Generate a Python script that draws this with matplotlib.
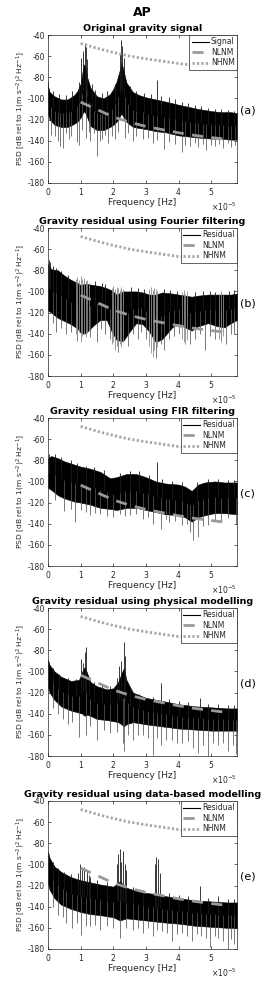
import numpy as np
import matplotlib
matplotlib.use("Agg")
import matplotlib.pyplot as plt
from matplotlib.lines import Line2D

plt.rcParams['font.family'] = ['DejaVu Sans']
plt.rcParams['axes.unicode_minus'] = False

F_UNIT = 1e-5      # frequencies below are in units of 1e-5 Hz
F_MAX = 5.787

# Peterson noise models
NLNM_F = [1.0, 1.5, 2.0, 2.5, 3.0, 3.5, 4.0, 4.5, 5.0, 5.5]
NLNM_DB = [-103.5, -110.5, -117.5, -122.5, -126.5, -129.5, -132.5, -135, -137, -138.8]
NHNM_F = [1.0, 1.5, 2.0, 2.5, 3.0, 3.5, 4.0, 4.5, 5.0, 5.5, 5.79]
NHNM_DB = [-48, -52.5, -56.5, -60, -62.5, -64.8, -67, -68.8, -70.3, -71.5, -72.2]

# (a) original gravity signal: upper / lower edge of the dense PSD band
A_F = [0.0, 0.05, 0.2, 0.4, 0.6, 0.8, 0.9, 1.0, 1.05, 1.1, 1.15, 1.2, 1.3, 1.5, 1.7, 1.9, 2.0,
       2.1, 2.2, 2.25, 2.3, 2.4, 2.6, 2.8, 3.0, 3.3, 3.6, 4.0, 4.3, 4.6, 5.0, 5.3, 5.6, 5.79]
A_UP = [-88, -94, -98, -101, -101, -97, -93, -86, -76, -68, -70, -80, -90, -98, -100, -96, -91,
        -84, -73, -66, -72, -85, -94, -97, -99, -101, -103, -106, -108, -110, -112, -113, -113, -114]
A_LO = [-115, -120, -125, -127, -127, -124, -122, -118, -115, -112, -114, -118, -126, -130, -130, -127, -125,
        -122, -117, -114, -117, -122, -127, -128, -129, -131, -132, -135, -136, -137, -138, -138, -139, -139]
A_SPK_UP_F = [0.0, 0.15, 0.35, 0.55, 0.75, 0.95, 1.02, 1.08, 1.12, 1.16, 1.2, 1.35, 1.45, 1.65, 1.8, 2.05,
              2.2, 2.24, 2.28, 2.33, 2.5, 2.7, 2.95, 3.15, 3.35, 3.45, 3.7, 3.9, 4.1, 4.3, 4.5, 4.7,
              4.9, 5.1, 5.3, 5.5, 5.7]
A_SPK_UP_DB = [-84, -93, -96, -97, -93, -84, -62, -55, -48, -51, -63, -86, -92, -95, -93, -86,
               -58, -45, -50, -62, -88, -93, -95, -96, -83, -98, -99, -101, -103, -104, -106, -107,
               -109, -110, -110, -111, -112]
A_SPK_DN_F = [0.1, 0.2, 0.3, 0.38, 0.45, 0.55, 0.65, 0.7, 0.9, 0.95, 1.05, 1.15, 1.25, 1.3, 1.42, 1.5,
              1.58, 1.65, 1.75, 1.85, 1.95, 2.05, 2.15, 2.35, 2.45, 2.6, 2.7, 2.9, 3.05, 3.2, 3.35,
              3.55, 3.7, 3.9, 4.1, 4.2, 4.35, 4.5, 4.6, 4.75, 4.85, 5.0, 5.1, 5.25, 5.35, 5.5, 5.6, 5.72]
A_SPK_DN_DB = [-135, -136, -140, -145, -147, -133, -138, -136, -141, -144, -130, -137, -132, -140, -133, -154,
               -140, -138, -135, -142, -136, -138, -132, -137, -133, -140, -136, -138, -137, -142, -139,
               -148, -141, -143, -151, -144, -145, -142, -146, -143, -149, -144, -145, -143, -147, -142, -146, -144]

# (b) Fourier filtering residual
B_F = [0.0, 0.1, 0.3, 0.5, 0.7, 0.9, 1.0, 1.1, 1.2, 1.4, 1.6, 1.8, 1.95, 2.1, 2.3, 2.5, 2.7, 2.9,
       3.1, 3.3, 3.5, 3.8, 4.0, 4.2, 4.4, 4.6, 4.9, 5.2, 5.4, 5.6, 5.79]
B_UP = [-74, -79, -80, -85, -89, -92, -94, -93, -93, -94, -95, -97, -99, -103, -100, -100, -100, -101,
        -103, -103, -101, -102, -103, -104, -105, -104, -103, -103, -103, -103, -102]
B_LO = [-118, -120, -125, -128, -131, -135, -139, -140, -138, -132, -127, -127, -138, -146, -147, -138, -130, -131,
        -138, -148, -145, -134, -130, -134, -137, -133, -130, -133, -134, -130, -127]
B_SPK_UP_F = [0.02, 0.05, 0.15, 0.25, 0.4, 0.6, 1.45, 1.65, 1.75, 2.55, 2.75, 2.95, 3.55, 3.75, 3.95,
              4.5, 4.75, 4.95, 5.1, 5.55, 5.7]
B_SPK_UP_DB = [-70, -72, -76, -78, -81, -84, -90, -92, -93, -96, -97, -98, -98, -99, -100,
               -101, -100, -100, -101, -100, -99]
B_SPK_DN_F = [0.15, 0.25, 0.4, 0.55, 0.7, 0.9, 1.3, 1.5, 1.62, 1.75, 1.9, 2.15, 2.45, 2.6, 2.75, 2.85,
              3.0, 3.3, 3.45, 3.55, 3.7, 3.85, 4.0, 4.35, 4.5, 4.65, 4.8, 4.95, 5.1, 5.3, 5.45, 5.6, 5.7]
B_SPK_DN_DB = [-130, -138, -135, -140, -138, -147, -143, -148, -136, -140, -145, -157, -152, -140, -145, -138,
               -145, -163, -150, -155, -145, -142, -140, -150, -145, -140, -155, -142, -145, -146, -150, -140, -140]
# light grey comb lines around the filtered harmonics
B_GREY_F = [0.85, 0.9, 0.95, 1.0, 1.05, 1.1, 1.15, 1.2, 1.25, 1.95, 2.0, 2.05, 2.1, 2.15, 2.2, 2.25, 2.3,
            3.1, 3.15, 3.2, 3.25, 3.3, 3.35, 4.1, 4.15, 4.2, 4.25, 5.25, 5.3, 5.35]
B_GREY_TOP = [-88, -86, -89, -85, -88, -87, -90, -89, -92, -97, -95, -98, -96, -97, -99, -96, -98,
              -98, -96, -99, -97, -98, -100, -101, -99, -102, -100, -102, -100, -103]
B_GREY_BOT = [-140, -145, -138, -148, -142, -140, -143, -139, -137, -150, -148, -155, -152, -157, -150, -153, -148,
              -152, -158, -162, -155, -150, -153, -145, -148, -150, -146, -145, -148, -142]

# (c) FIR filtering residual
C_F = [0.0, 0.1, 0.3, 0.5, 0.8, 1.0, 1.3, 1.6, 1.9, 2.1, 2.4, 2.7, 3.0, 3.3, 3.6, 4.0, 4.2, 4.4,
       4.6, 4.8, 5.1, 5.4, 5.79]
C_UP = [-78, -76, -78, -81, -84, -86, -88, -91, -97, -96, -93, -93, -96, -100, -102, -103, -105, -109,
        -103, -101, -100, -101, -101]
C_LO = [-106, -108, -113, -116, -119, -120, -122, -125, -126, -127, -125, -125, -127, -129, -131, -132, -134, -138,
        -134, -132, -130, -130, -131]
C_SPK_UP_F = [0.03, 0.2, 0.4, 0.7, 0.9, 1.15, 1.4, 1.7, 2.2, 2.5, 2.8, 3.1, 3.35, 3.5, 3.8, 4.1,
              4.55, 4.9, 5.2, 5.5, 5.7]
C_SPK_UP_DB = [-74, -74, -77, -80, -83, -85, -86, -89, -92, -90, -90, -94, -82, -98, -100, -101,
               -101, -98, -98, -99, -99]
C_SPK_DN_F = [0.2, 0.5, 0.7, 0.82, 1.0, 1.15, 1.3, 1.45, 1.6, 1.8, 2.0, 2.2, 2.35, 2.5, 2.7, 2.9, 3.05,
              3.2, 3.45, 3.6, 3.7, 3.9, 4.1, 4.25, 4.35, 4.45, 4.6, 4.75, 4.9, 5.1, 5.3, 5.5, 5.75]
C_SPK_DN_DB = [-118, -128, -126, -138, -127, -129, -132, -130, -131, -133, -134, -131, -133, -132, -131, -136, -134,
               -140, -145, -136, -138, -137, -141, -140, -148, -155, -153, -142, -141, -137, -137, -135, -140]

# (d) physical modelling residual
D_F = [0.0, 0.05, 0.2, 0.4, 0.7, 0.95, 1.05, 1.12, 1.18, 1.3, 1.5, 1.8, 2.0, 2.15, 2.25, 2.32, 2.4,
       2.6, 3.0, 3.5, 4.0, 4.5, 5.0, 5.5, 5.79]
D_UP = [-89, -94, -100, -105, -109, -108, -100, -96, -100, -110, -114, -117, -116, -110, -102, -97, -108,
        -120, -125, -128, -131, -133, -134, -135, -135]
D_LO = [-115, -120, -127, -133, -137, -139, -140, -142, -141, -142, -145, -146, -147, -148, -150, -152, -150,
        -148, -150, -152, -154, -155, -156, -156, -156]
D_SPK_UP_F = [0.15, 0.35, 0.6, 0.85, 1.02, 1.07, 1.12, 1.15, 1.25, 1.4, 1.65, 1.9, 2.1, 2.18, 2.22, 2.33,
              2.36, 2.5, 2.8, 3.2, 3.45, 3.7, 4.0, 4.3, 4.65, 4.9, 5.2, 5.5, 5.7]
D_SPK_UP_DB = [-97, -102, -106, -107, -88, -92, -82, -77, -105, -110, -113, -114, -106, -95, -90, -72,
               -85, -115, -121, -124, -111, -126, -128, -129, -125, -131, -131, -132, -132]
D_SPK_DN_F = [0.15, 0.3, 0.45, 0.6, 0.75, 0.95, 1.15, 1.3, 1.5, 1.7, 1.9, 2.1, 2.3, 2.33, 2.45, 2.6, 2.75,
              2.9, 3.05, 3.2, 3.35, 3.45, 3.6, 3.8, 3.95, 4.1, 4.3, 4.45, 4.6, 4.75, 4.9, 5.05, 5.2, 5.35,
              5.5, 5.65, 5.75]
D_SPK_DN_DB = [-135, -140, -145, -150, -148, -162, -160, -152, -165, -155, -158, -157, -168, -175, -160, -165, -160,
               -160, -163, -179, -163, -170, -165, -165, -168, -168, -166, -172, -177, -170, -180, -168, -170, -168,
               -175, -170, -178]

# (e) data-based modelling residual
E_F = [0.0, 0.05, 0.2, 0.4, 0.7, 1.0, 1.3, 1.6, 2.0, 2.2, 2.4, 2.7, 3.0, 3.3, 3.6, 4.0, 4.5, 5.0, 5.5, 5.79]
E_UP = [-88, -94, -102, -107, -112, -115, -117, -119, -121, -116, -122, -125, -127, -128, -130, -132, -134,
        -135, -136, -136]
E_LO = [-118, -124, -132, -138, -142, -145, -147, -148, -150, -153, -151, -152, -153, -154, -155, -156, -158,
        -159, -160, -160]
E_SPK_UP_F = [0.15, 0.3, 0.5, 0.7, 0.92, 0.98, 1.05, 1.1, 1.18, 1.25, 1.3, 1.5, 1.8, 2.1, 2.15, 2.2, 2.25,
              2.3, 2.35, 2.4, 2.6, 2.9, 3.28, 3.32, 3.36, 3.42, 3.7, 4.0, 4.3, 4.65, 4.9, 5.2, 5.5, 5.7]
E_SPK_UP_DB = [-98, -103, -107, -109, -108, -100, -104, -102, -106, -110, -112, -115, -117, -100, -90, -85, -98,
               -87, -100, -105, -121, -124, -100, -93, -95, -108, -127, -129, -130, -120, -132, -130, -133, -133]
E_SPK_DN_F = [0.15, 0.3, 0.45, 0.55, 0.75, 0.9, 1.0, 1.15, 1.3, 1.45, 1.6, 1.8, 2.0, 2.2, 2.4, 2.6, 2.75,
              2.9, 3.05, 3.2, 3.35, 3.5, 3.65, 3.8, 3.95, 4.1, 4.25, 4.4, 4.55, 4.7, 4.85, 4.95, 5.1, 5.2,
              5.35, 5.5, 5.6, 5.7]
E_SPK_DN_DB = [-140, -148, -150, -155, -160, -155, -167, -158, -158, -157, -162, -158, -160, -170, -160, -162, -160,
               -165, -160, -168, -162, -163, -165, -172, -166, -165, -168, -172, -166, -168, -170, -178, -168, -170,
               -172, -180, -171, -175]

TITLES = ['Original gravity signal',
          'Gravity residual using Fourier filtering',
          'Gravity residual using FIR filtering',
          'Gravity residual using physical modelling',
          'Gravity residual using data-based modelling']
SERIES_NAMES = ['Signal', 'Residual', 'Residual', 'Residual', 'Residual']
PANEL_TAGS = ['(a)', '(b)', '(c)', '(d)', '(e)']
Y_TICKS = [-180, -160, -140, -120, -100, -80, -60, -40]
X_TICKS = [0, 1, 2, 3, 4, 5]

panels = [
    (A_F, A_UP, A_LO, A_SPK_UP_F, A_SPK_UP_DB, A_SPK_DN_F, A_SPK_DN_DB),
    (B_F, B_UP, B_LO, B_SPK_UP_F, B_SPK_UP_DB, B_SPK_DN_F, B_SPK_DN_DB),
    (C_F, C_UP, C_LO, C_SPK_UP_F, C_SPK_UP_DB, C_SPK_DN_F, C_SPK_DN_DB),
    (D_F, D_UP, D_LO, D_SPK_UP_F, D_SPK_UP_DB, D_SPK_DN_F, D_SPK_DN_DB),
    (E_F, E_UP, E_LO, E_SPK_UP_F, E_SPK_UP_DB, E_SPK_DN_F, E_SPK_DN_DB),
]

TXT = '#262626'
W, H = 268, 981
fig = plt.figure(figsize=(W / 100, H / 100), dpi=100)
fig.text(142 / W, 1 - 12 / H, 'AP', ha='center', va='center', fontsize=9, fontweight='bold')

tops = [35, 228, 418, 608, 801]
for i, (f, up, lo, suf, sudb, sdf, sddb) in enumerate(panels):
    ax = fig.add_axes([48 / W, 1 - (tops[i] + 148) / H, 189 / W, 148 / H])
    f = np.array(f) * F_UNIT
    up = np.array(up, float)
    lo = np.array(lo, float)
    mid = (up + lo) / 2

    ax.fill_between(f, lo, up, color='black', lw=0.4, zorder=2)
    # spikes reaching out of the dense band
    suf = np.array(suf) * F_UNIT
    ax.vlines(suf, np.interp(suf, f, mid), sudb, color='#1a1a1a', lw=0.6, zorder=2)
    sdf = np.array(sdf) * F_UNIT
    ax.vlines(sdf, sddb, np.interp(sdf, f, mid), color='#555555', lw=0.55, zorder=2)
    if i == 1:
        gf = np.array(B_GREY_F) * F_UNIT
        ax.vlines(gf, B_GREY_BOT, B_GREY_TOP, color='#8c8c8c', lw=0.6, zorder=2.5)

    ax.plot(np.array(NLNM_F) * F_UNIT, NLNM_DB, color='#999999', lw=2,
            ls=(0, (4, 3)), zorder=3, label='NLNM')
    ax.plot(np.array(NHNM_F) * F_UNIT, NHNM_DB, color='#a6a6a6', lw=2,
            ls=(0, (0.8, 0.8)), zorder=3, label='NHNM')

    ax.set_xlim(0, F_MAX * F_UNIT)
    ax.set_ylim(-180, -40)
    ax.set_xticks(np.array(X_TICKS) * F_UNIT)
    ax.set_yticks(Y_TICKS)
    ax.ticklabel_format(axis='x', style='sci', scilimits=(0, 0), useMathText=True)
    ax.xaxis.get_offset_text().set_fontsize(5.5)
    ax.xaxis.get_offset_text().set_color(TXT)
    ax.tick_params(direction='in', length=2, width=0.5, top=True, right=True,
                   labelsize=5.5, labelcolor=TXT, colors=TXT, pad=2)
    for s in ax.spines.values():
        s.set_linewidth(0.5)
        s.set_color(TXT)

    ax.set_title(TITLES[i], fontsize=6.8, fontweight='bold', pad=3)
    ax.set_xlabel('Frequency [Hz]', fontsize=6.5, color=TXT, labelpad=1)
    ax.set_ylabel(r'PSD [dB rel to 1(m s$^{-2}$)$^2$ Hz$^{-1}$]', fontsize=5.4, color=TXT, labelpad=1)
    ax.text(1.015, 0.49, PANEL_TAGS[i], transform=ax.transAxes, ha='left', va='center',
            fontsize=8, color='black')

    handles = [Line2D([], [], color='black', lw=0.8, label=SERIES_NAMES[i])] + ax.get_lines()
    leg = ax.legend(handles=handles, loc='upper right', borderaxespad=0, fontsize=5.5,
                    handlelength=2.2, handletextpad=0.3, borderpad=0.3, labelspacing=0.2,
                    fancybox=False, framealpha=1, edgecolor=TXT)
    leg.get_frame().set_linewidth(0.5)
    for t in leg.get_texts():
        t.set_color(TXT)

fig.savefig('out.png', dpi=100)
